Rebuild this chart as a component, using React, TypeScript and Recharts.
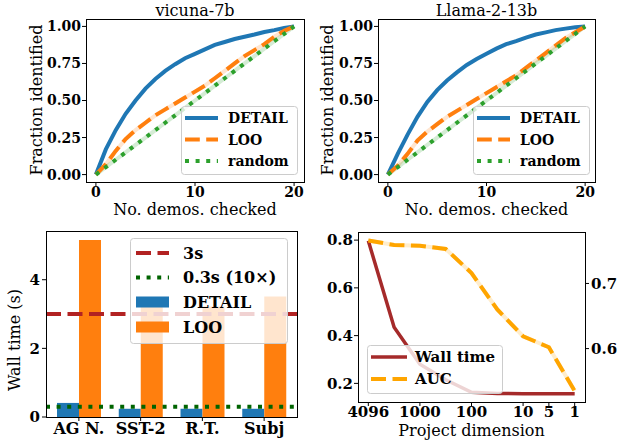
import React from "react"
import { LineChart, Line, BarChart, Bar, XAxis, YAxis, ReferenceLine } from "recharts"

const FONT = '"DejaVu Serif", serif'
const blue = "#1f77b4"
const orange = "#ff7f0e"
const green = "#2ca02c"

// top row: fraction of noisy demos found vs. no. checked
const demosChecked = [0, 1, 2, 3, 4, 5, 6, 7, 8, 9, 10, 11, 12, 13, 14, 15, 16, 17, 18, 19, 20]
const vicunaDetail = [0, 0.17, 0.3, 0.41, 0.5, 0.58, 0.645, 0.7, 0.745, 0.785, 0.815, 0.845, 0.875, 0.895, 0.915, 0.93, 0.945, 0.962, 0.975, 0.99, 1.0]
const vicunaLoo = [0, 0.07, 0.16, 0.24, 0.3, 0.35, 0.4, 0.44, 0.48, 0.52, 0.56, 0.6, 0.65, 0.7, 0.75, 0.8, 0.84, 0.88, 0.93, 0.97, 1.0]
const llamaDetail = [0, 0.14, 0.27, 0.39, 0.49, 0.57, 0.635, 0.69, 0.74, 0.78, 0.815, 0.85, 0.88, 0.9, 0.925, 0.945, 0.96, 0.975, 0.985, 0.995, 1.0]
const llamaLoo = [0, 0.06, 0.14, 0.23, 0.29, 0.34, 0.39, 0.43, 0.47, 0.51, 0.55, 0.59, 0.63, 0.67, 0.72, 0.77, 0.82, 0.87, 0.92, 0.96, 1.0]
const randomOrder = [0, 0.05, 0.1, 0.15, 0.2, 0.25, 0.3, 0.35, 0.4, 0.45, 0.5, 0.55, 0.6, 0.65, 0.7, 0.75, 0.8, 0.85, 0.9, 0.95, 1.0]
const fractionTicks = [0, 0.25, 0.5, 0.75, 1]
const demoTicks = [0, 10, 20]

// bottom left: wall time per dataset
const datasets = ["AG N.", "SST-2", "R.T.", "Subj"]
const detailTime = [0.41, 0.24, 0.24, 0.24]
const looTime = [5.16, 3.25, 3.22, 3.51]
const timeTicks = [0, 2, 4]
const budgetLines = [3, 0.3]

// bottom right: projection dimension sweep
const projDims = [4096, 2048, 1000, 500, 100, 50, 10, 5, 1]
const dimTicks = [4096, 1000, 100, 10, 5, 1]
const wallTime = [0.797, 0.435, 0.28, 0.215, 0.163, 0.158, 0.157, 0.157, 0.157]
const aucScore = [0.766, 0.759, 0.758, 0.753, 0.716, 0.66, 0.619, 0.602, 0.535]
const wallTicks = [0.2, 0.4, 0.6, 0.8]
const aucTicks = [0.6, 0.7]

const tick = (fontSize: number) => ({ fill: "#000", fontSize, fontWeight: "bold", fontFamily: FONT })

function CurvePanel({
  left,
  width,
  axisWidth,
  marginRight,
  detail,
  loo,
}: {
  left: number
  width: number
  axisWidth: number
  marginRight: number
  detail: number[]
  loo: number[]
}) {
  const data = demosChecked.map((x, i) => ({ x, detail: detail[i], loo: loo[i], random: randomOrder[i] }))
  return (
    <div style={{ position: "absolute", left, top: 0 }}>
      <LineChart width={width} height={220} data={data} margin={{ top: 19, right: marginRight, bottom: 0, left: 0 }}>
        <XAxis
          type="number"
          dataKey="x"
          domain={[-1, 21]}
          ticks={demoTicks}
          interval={0}
          height={38}
          tickSize={4}
          tickMargin={1}
          axisLine={false}
          tickLine={{ stroke: "#000" }}
          tick={tick(14)}
          allowDataOverflow
        />
        <YAxis
          type="number"
          domain={[-0.05, 1.05]}
          ticks={fractionTicks}
          interval={0}
          tickFormatter={(v: number) => v.toFixed(2)}
          width={axisWidth}
          tickSize={4}
          tickMargin={1}
          axisLine={false}
          tickLine={{ stroke: "#000" }}
          tick={tick(14)}
          allowDataOverflow
        />
        <Line dataKey="loo" stroke={orange} strokeOpacity={0.2} strokeWidth={4} dot={false} isAnimationActive={false} />
        <Line dataKey="random" stroke={green} strokeOpacity={0.2} strokeWidth={4} dot={false} isAnimationActive={false} />
        <Line dataKey="detail" stroke={blue} strokeWidth={4} dot={false} isAnimationActive={false} />
        <Line dataKey="loo" stroke={orange} strokeWidth={4} strokeDasharray="14.8 6.4" dot={false} isAnimationActive={false} />
        <Line dataKey="random" stroke={green} strokeWidth={4} strokeDasharray="4 6.6" dot={false} isAnimationActive={false} />
      </LineChart>
    </div>
  )
}

function TimePanel() {
  const data = datasets.map((name, i) => ({ name, detail: detailTime[i], loo: looTime[i] }))
  return (
    <div style={{ position: "absolute", left: 0, top: 220 }}>
      <BarChart width={312} height={222} data={data} margin={{ top: 11, right: 15, bottom: 0, left: 0 }} barGap={0} barSize={22}>
        <XAxis
          dataKey="name"
          height={25}
          interval={0}
          padding={{ left: 2, right: 2 }}
          tickSize={4}
          tickMargin={2}
          axisLine={false}
          tickLine={{ stroke: "#000" }}
          tick={tick(16)}
        />
        <YAxis
          type="number"
          domain={[0, 5.42]}
          ticks={timeTicks}
          interval={0}
          width={46}
          tickSize={4}
          tickMargin={2}
          axisLine={false}
          tickLine={{ stroke: "#000" }}
          tick={tick(15)}
          allowDataOverflow
        />
        <Bar dataKey="detail" fill={blue} isAnimationActive={false} />
        <Bar dataKey="loo" fill={orange} isAnimationActive={false} />
        <ReferenceLine y={budgetLines[0]} stroke="#b22222" strokeWidth={4} strokeDasharray="15 6.5" />
        <ReferenceLine y={budgetLines[1]} stroke="#006400" strokeWidth={4} strokeDasharray="4 6.6" />
      </BarChart>
    </div>
  )
}

function DimPanel() {
  const data = projDims.map((d, i) => ({ idx: i, wall: wallTime[i], auc: aucScore[i] }))
  const tickIdx = dimTicks.map((d) => projDims.indexOf(d))
  return (
    <div style={{ position: "absolute", left: 312, top: 220 }}>
      <LineChart width={313} height={222} data={data} margin={{ top: 12, right: 0, bottom: 0, left: 0 }}>
        <XAxis
          type="number"
          dataKey="idx"
          domain={[-0.4, 8.4]}
          ticks={tickIdx}
          interval={0}
          tickFormatter={(i: number) => String(projDims[i])}
          height={40}
          tickSize={4}
          tickMargin={0}
          axisLine={false}
          tickLine={{ stroke: "#000" }}
          tick={tick(15)}
          allowDataOverflow
        />
        <YAxis
          yAxisId="time"
          type="number"
          domain={[0.122, 0.834]}
          ticks={wallTicks}
          interval={0}
          tickFormatter={(v: number) => v.toFixed(1)}
          width={46}
          tickSize={4}
          tickMargin={1}
          axisLine={false}
          tickLine={{ stroke: "#000" }}
          tick={tick(15)}
          allowDataOverflow
        />
        <YAxis
          yAxisId="auc"
          orientation="right"
          type="number"
          domain={[0.518, 0.779]}
          ticks={aucTicks}
          interval={0}
          tickFormatter={(v: number) => v.toFixed(1)}
          width={40}
          tickSize={4}
          tickMargin={2}
          axisLine={false}
          tickLine={{ stroke: "#000" }}
          tick={tick(15)}
          allowDataOverflow
        />
        <Line yAxisId="time" dataKey="wall" stroke="#a52a2a" strokeWidth={3.5} dot={false} isAnimationActive={false} />
        <Line yAxisId="auc" dataKey="auc" stroke="#ffa500" strokeOpacity={0.2} strokeWidth={4} dot={false} isAnimationActive={false} />
        <Line yAxisId="auc" dataKey="auc" stroke="#ffa500" strokeWidth={4} strokeDasharray="15 6.5" dot={false} isAnimationActive={false} />
      </LineChart>
    </div>
  )
}

type Item = { label: string; color: string; kind: "line" | "rect"; dash?: string; width?: number }

function LegendBox({
  x, y, w, h, rows, handleX, handleW, textX, fontSize, items,
}: {
  x: number; y: number; w: number; h: number; rows: number[]; handleX: number; handleW: number
  textX: number; fontSize: number; items: Item[]
}) {
  return (
    <g>
      <rect x={x + 0.5} y={y + 0.5} width={w} height={h} rx={3} fill="#fff" fillOpacity={0.8} stroke="#ccc" />
      {items.map((it, i) => {
        const cy = y + rows[i]
        return (
          <g key={it.label}>
            {it.kind === "line" ? (
              <line x1={x + handleX} x2={x + handleX + handleW} y1={cy} y2={cy} stroke={it.color} strokeWidth={it.width ?? 4} strokeDasharray={it.dash} />
            ) : (
              <rect x={x + handleX} y={cy - 5.5} width={handleW} height={11} fill={it.color} />
            )}
            <text x={x + textX} y={cy} dy="0.36em" fontSize={fontSize} fontWeight="bold" fontFamily={FONT} fill="#000">
              {it.label}
            </text>
          </g>
        )
      })}
    </g>
  )
}

const curveItems: Item[] = [
  { label: "DETAIL", color: blue, kind: "line" },
  { label: "LOO", color: orange, kind: "line", dash: "14.8 6.4" },
  { label: "random", color: green, kind: "line", dash: "4 6.6" },
]

function Overlay() {
  const label = { fontFamily: FONT, fontSize: 16, fill: "#000" }
  return (
    <svg width={625} height={442} style={{ position: "absolute", left: 0, top: 0, pointerEvents: "none" }}>
      <text x={195} y={16} textAnchor="middle" {...label}>vicuna-7b</text>
      <text x={486.5} y={16} textAnchor="middle" {...label}>Llama-2-13b</text>
      <text x={195} y={215} textAnchor="middle" {...label}>No. demos. checked</text>
      <text x={486.5} y={215} textAnchor="middle" {...label}>No. demos. checked</text>
      <text transform="translate(42,100) rotate(-90)" textAnchor="middle" {...label}>Fraction identified</text>
      <text transform="translate(333,100) rotate(-90)" textAnchor="middle" {...label}>Fraction identified</text>
      <text transform="translate(20,340) rotate(-90)" textAnchor="middle" {...label}>Wall time (s)</text>
      <text x={471.5} y={436} textAnchor="middle" {...label}>Project dimension</text>

      <rect x={86.5} y={19.5} width={218} height={163} fill="none" stroke="#000" />
      <rect x={378.5} y={19.5} width={217} height={163} fill="none" stroke="#000" />
      <rect x={46.5} y={231.5} width={251} height={186} fill="none" stroke="#000" />
      <rect x={358.5} y={232.5} width={227} height={170} fill="none" stroke="#000" />

      <LegendBox x={181} y={106} w={116} h={68} rows={[12, 33.5, 55]} handleX={4} handleW={33} textX={47} fontSize={14} items={curveItems} />
      <LegendBox x={473} y={106} w={116} h={68} rows={[12, 33.5, 55]} handleX={4} handleW={33} textX={47} fontSize={14} items={curveItems} />
      <LegendBox
        x={130} y={238} w={157} h={105} rows={[15, 39.5, 64, 89]} handleX={6} handleW={33} textX={53} fontSize={16}
        items={[
          { label: "3s", color: "#b22222", kind: "line", dash: "15 6.5" },
          { label: "0.3s (10×)", color: "#006400", kind: "line", dash: "4 6.6" },
          { label: "DETAIL", color: blue, kind: "rect" },
          { label: "LOO", color: orange, kind: "rect" },
        ]}
      />
      <LegendBox
        x={367} y={345} w={135} h={48} rows={[12, 34]} handleX={4} handleW={36} textX={48} fontSize={15}
        items={[
          { label: "Wall time", color: "#a52a2a", kind: "line", width: 3.5 },
          { label: "AUC", color: "#ffa500", kind: "line", dash: "15 6.5" },
        ]}
      />
    </svg>
  )
}

export default function App() {
  return (
    <div style={{ position: "absolute", left: 0, top: 0, width: 625, height: 442, background: "#fff", fontFamily: FONT }}>
      <CurvePanel left={0} width={312} axisWidth={86} marginRight={8} detail={vicunaDetail} loo={vicunaLoo} />
      <CurvePanel left={312} width={313} axisWidth={66} marginRight={30} detail={llamaDetail} loo={llamaLoo} />
      <TimePanel />
      <DimPanel />
      <Overlay />
    </div>
  )
}
